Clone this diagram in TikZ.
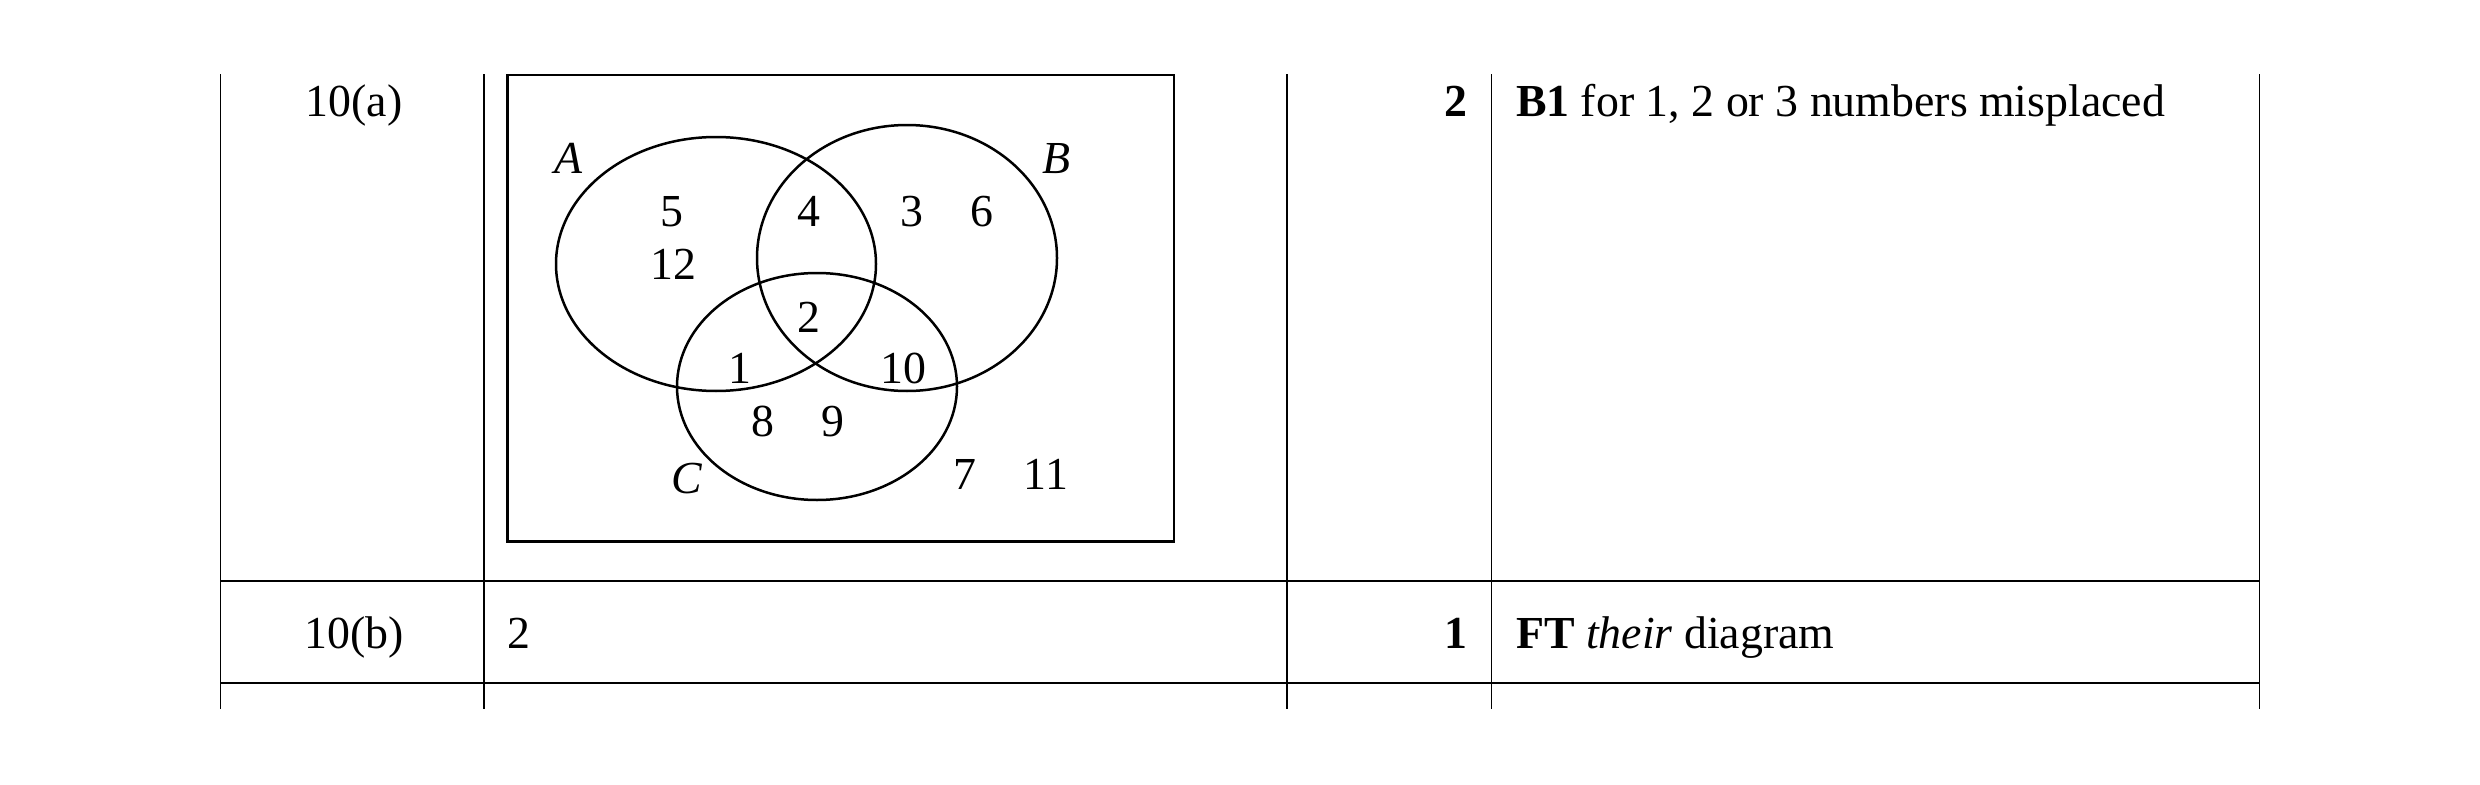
\documentclass[tikz,border=0pt]{standalone}
\usepackage{fontspec}
\setmainfont{Liberation Serif}
\begin{document}
\begin{tikzpicture}[x=0.24pt,y=-0.24pt,
  txt/.style={inner sep=0pt, outer sep=0pt, font=\fontsize{11}{13}\selectfont},
  vrule/.style={line width=0.45pt},
  hrule/.style={line width=0.5pt},
  frame/.style={line width=0.7pt},
  venn/.style={line width=0.6pt}]
\useasboundingbox (0,0) rectangle (2480,785);
% table rules
\foreach \xx in {220.5,484,1287,1491.5,2259.5}
  \draw[vrule] (\xx,74) -- (\xx,709);
\draw[hrule] (220.5,581) -- (2259.5,581);
\draw[hrule] (220.5,683) -- (2259.5,683);
% row texts
\node[txt,anchor=base] (qa) at (354,116) {10(a)};
\node[txt,anchor=base] (qb) at (354,648) {10(b)};
\node[txt,anchor=base west] (ansb) at (507,648) {2};
\node[txt,anchor=base east] (mka) at (1467,116) {\bfseries 2};
\node[txt,anchor=base east] (mkb) at (1467,648) {\bfseries 1};
\node[txt,anchor=base west] (gda) at (1516,116) {\textbf{B1} for 1, 2 or 3 numbers misplaced};
\node[txt,anchor=base west] (gdb) at (1516,648) {\textbf{FT} \textit{their} diagram};
% Venn diagram
\draw[frame] (507.5,75) rectangle (1174,541.5);
\draw[venn] (716,264) ellipse [x radius=38.4pt, y radius=30.48pt];
\draw[venn] (907,258) ellipse [x radius=36pt, y radius=31.92pt];
\draw[venn] (817,386.5) ellipse [x radius=33.6pt, y radius=27.24pt];
\node[txt,anchor=base] (la) at (568,173) {\itshape A};
\node[txt,anchor=base] (lb) at (1056,173) {\itshape B};
\node[txt,anchor=base] (lc) at (687,493) {\itshape C};
\node[txt,anchor=base] (n5) at (672,226) {5};
\node[txt,anchor=base] (n4) at (809,226) {4};
\node[txt,anchor=base] (n3) at (912,226) {3};
\node[txt,anchor=base] (n6) at (982,226) {6};
\node[txt,anchor=base] (n12) at (673,279) {12};
\node[txt,anchor=base] (n2) at (809,332) {2};
\node[txt,anchor=base] (n1) at (740,383) {1};
\node[txt,anchor=base] (n10) at (903,383) {10};
\node[txt,anchor=base] (n8) at (763,436) {8};
\node[txt,anchor=base] (n9) at (833,436) {9};
\node[txt,anchor=base] (n7) at (965,489) {7};
\node[txt,anchor=base] (n11) at (1046,489) {11};
\end{tikzpicture}
\end{document}
